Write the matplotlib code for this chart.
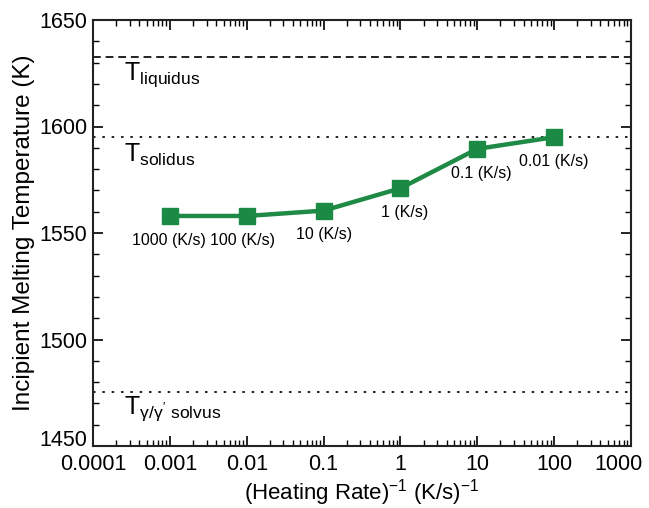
import numpy as np
import matplotlib
matplotlib.use('Agg')
import matplotlib.pyplot as plt
from matplotlib.ticker import LogLocator, MultipleLocator, FixedLocator, FuncFormatter
from matplotlib.transforms import ScaledTranslation

plt.rcParams['font.family'] = ['Liberation Sans', 'DejaVu Sans']
plt.rcParams['mathtext.fontset'] = 'custom'
plt.rcParams['mathtext.rm'] = 'Liberation Sans'
plt.rcParams['mathtext.it'] = 'Liberation Sans'
plt.rcParams['mathtext.sf'] = 'Liberation Sans'

# inverse heating rate (s/K) and incipient melting temperature (K)
inv_rate = [0.001, 0.01, 0.1, 1, 10, 100]
temp = [1558, 1558, 1560.5, 1571, 1589.5, 1595]
rate_labels = ['1000 (K/s)', '100 (K/s)', '10 (K/s)', '1 (K/s)', '0.1 (K/s)', '0.01 (K/s)']

T_liquidus = 1632.5
T_solidus = 1595
T_solvus = 1475.5

xticks = [0.0001, 0.001, 0.01, 0.1, 1, 10, 100, 1000]
xtick_labels = ['0.0001', '0.001', '0.01', '0.1', '1', '10', '100', '1000']
ymin, ymax = 1450, 1650

fig = plt.figure(figsize=(6.49, 5.08), dpi=100)
ax = fig.add_axes([93/649, 1-446/508, 538/649, 426/508])

ax.axhline(T_liquidus, color='#222222', lw=1.4, ls=(0, (4, 2.5)))
ax.axhline(T_solidus, color='#222222', lw=1.4, ls=(0, (1.3, 3.5)))
ax.axhline(T_solvus, color='#222222', lw=1.4, ls=(0, (1.3, 3.5)))

ax.plot(inv_rate, temp, color='#1e8a45', lw=3.2, marker='s', ms=11.5,
        mfc='#1a8a44', mec='#1a8a44', zorder=5)

offsets = [(-1, -12), (-3, -12), (0, -12), (3, -12), (3, -12), (0, -12)]
for x, y, lab, off in zip(inv_rate, temp, rate_labels, offsets):
    ax.annotate(lab, (x, y), xytext=off, textcoords='offset points',
                ha='center', va='top', fontsize=11.5)

ax.text(0.058, 0.871, r'T$_{\mathrm{liquidus}}$', transform=ax.transAxes,
        fontsize=18, va='center')
ax.text(0.058, 0.684, r'T$_{\mathrm{solidus}}$', transform=ax.transAxes,
        fontsize=18, va='center')
ax.text(0.058, 0.087, r"T$_{\gamma/\gamma'\ \mathrm{solvus}}$", transform=ax.transAxes,
        fontsize=18, va='center')

ax.set_xscale('log')
ax.set_xlim(0.0001, 1000)
ax.set_ylim(ymin, ymax)
ax.xaxis.set_major_locator(FixedLocator(xticks))
ax.set_xticklabels(xtick_labels)
ax.xaxis.set_minor_locator(LogLocator(base=10, subs=np.arange(2, 10), numticks=20))
ax.yaxis.set_major_locator(MultipleLocator(50))
ax.yaxis.set_minor_locator(MultipleLocator(10))
# the lowest y label is drawn separately, a little above its tick
ax.yaxis.set_major_formatter(FuncFormatter(lambda v, p: '' if v == ymin else '%d' % v))
ax.annotate('%d' % ymin, xy=(0, ymin), xycoords=('axes fraction', 'data'),
            xytext=(-4, 4), textcoords='offset points', ha='right', va='center',
            fontsize=15.5)

ax.tick_params(which='both', direction='in', top=True, right=True, labelsize=15.5)
ax.tick_params(axis='x', pad=6)
ax.tick_params(axis='y', pad=4)
ax.tick_params(which='major', length=7, width=1.2)
ax.tick_params(which='minor', length=4, width=1)
for s in ax.spines.values():
    s.set_linewidth(1.5)
    s.set_color('#222222')

# last x tick label sits slightly left so it stays in the picture
lab = ax.get_xticklabels()[-1]
lab.set_transform(lab.get_transform() + ScaledTranslation(-9/72, 0, fig.dpi_scale_trans))

ax.set_xlabel(r'(Heating Rate)$^{-1}$ (K/s)$^{-1}$', fontsize=16, labelpad=1)
ax.set_ylabel('Incipient Melting Temperature (K)', fontsize=17.5, labelpad=3)

fig.savefig('out.png', dpi=100)
